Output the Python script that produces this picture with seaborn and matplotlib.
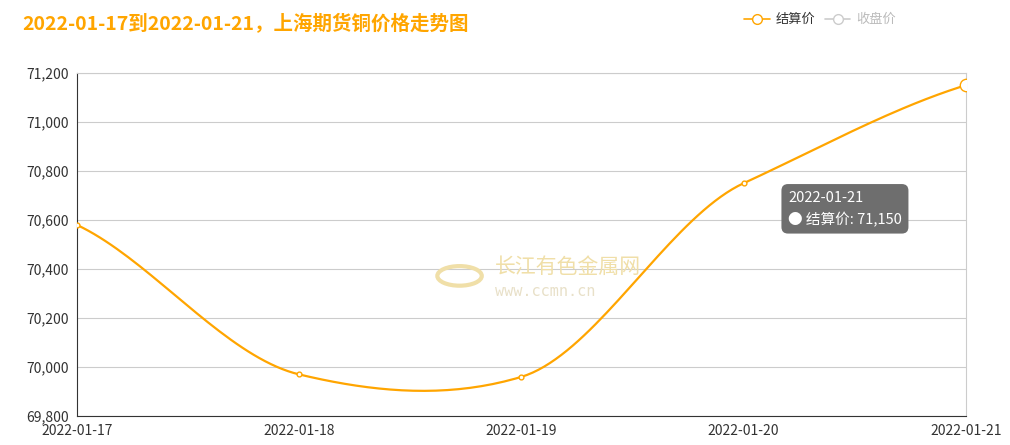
import numpy as np
import pandas as pd
import matplotlib.pyplot as plt
import seaborn as sns

dates = ['2022-01-17', '2022-01-18', '2022-01-19', '2022-01-20', '2022-01-21']
settle = [70580, 69970, 69960, 70750, 71150]

sns.set_style('white')
plt.rcParams['font.family'] = ['Noto Sans CJK SC', 'DejaVu Sans']

orange = '#FFA500'
fig = plt.figure(figsize=(10.1, 4.45), dpi=100)
ax = fig.add_axes([0.0762, 0.065, 0.88, 0.771])

# smooth line (cubic hermite between points)
x = np.arange(len(settle), dtype=float)
y = np.array(settle, dtype=float)
m = np.gradient(y, x) * 0.7
xs, ys = [], []
for i in range(len(x) - 1):
    t = np.linspace(0, 1, 40)
    h00 = 2*t**3 - 3*t**2 + 1; h10 = t**3 - 2*t**2 + t
    h01 = -2*t**3 + 3*t**2; h11 = t**3 - t**2
    xs.extend(x[i] + t)
    ys.extend(h00*y[i] + h10*m[i] + h01*y[i+1] + h11*m[i+1])
sns.lineplot(x=xs, y=ys, ax=ax, color=orange, lw=1.6, sort=False)
df = pd.DataFrame({'x': x, 'y': y})
sns.scatterplot(data=df.iloc[:-1], x='x', y='y', ax=ax, s=12, facecolor='white',
                edgecolor=orange, linewidth=1, zorder=5)
ax.scatter([x[-1]], [y[-1]], s=80, facecolor='white', edgecolor=orange, linewidth=1, zorder=5)

ax.set_xlim(0, 4)
ax.set_ylim(69800, 71200)
ax.set_yticks(range(69800, 71201, 200))
ax.set_yticklabels([f'{v:,}' for v in range(69800, 71201, 200)], fontsize=10, color='#333333')
ax.set_xticks(x)
ax.set_xticklabels(dates, fontsize=10, color='#333333')
ax.grid(axis='y', color='#cccccc', lw=0.8)
for s in ['top', 'right']:
    ax.spines[s].set_color('#cccccc')
ax.spines['left'].set_color('#333333')
ax.spines['bottom'].set_color('#333333')
ax.tick_params(axis='both', length=4, color='#333333', pad=2)
ax.set_xlabel(''); ax.set_ylabel('')

fig.text(0.022, 0.945, '2022-01-17到2022-01-21，上海期货铜价格走势图', fontsize=14,
         fontweight='bold', color=orange, va='center')

# legend
fig.add_artist(plt.Line2D([0.737, 0.762], [0.957, 0.957], color=orange, lw=1.2))
fig.add_artist(plt.Line2D([0.7495], [0.957], marker='o', ms=7, mfc='white', mec=orange))
fig.text(0.768, 0.957, '结算价', fontsize=9.5, color='#333333', va='center')
fig.add_artist(plt.Line2D([0.817, 0.842], [0.957, 0.957], color='#cccccc', lw=1.2))
fig.add_artist(plt.Line2D([0.8295], [0.957], marker='o', ms=7, mfc='white', mec='#cccccc'))
fig.text(0.848, 0.957, '收盘价', fontsize=9.5, color='#bbbbbb', va='center')

# watermark
fig.text(0.49, 0.4, '长江有色金属网', fontsize=15, color='#f0dfa8', va='center')
fig.text(0.49, 0.345, 'www.ccmn.cn', fontsize=11, color='#e8e0c8', va='center', family='DejaVu Sans Mono')
fig.add_artist(plt.Circle((0.455, 0.38), 0.022, transform=fig.transFigure, fc='none', ec='#f0dfa8', lw=3))

# tooltip
ax.text(3.2, 70720, f'{dates[-1]}\n● 结算价: {settle[-1]:,}', fontsize=10.5, color='white',
        va='top', linespacing=1.6,
        bbox=dict(boxstyle='round,pad=0.45', fc='#6e6e6e', ec='none'))

fig.savefig('out.png', dpi=100)
